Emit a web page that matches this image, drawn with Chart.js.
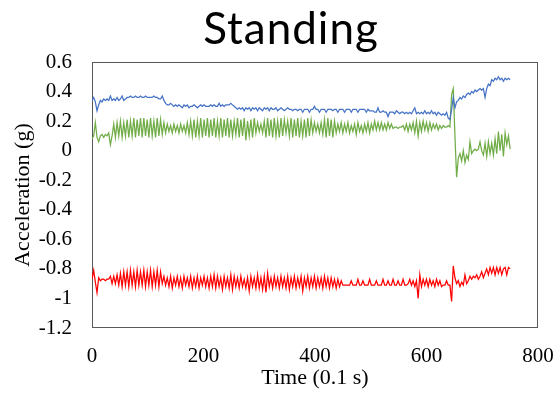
<!DOCTYPE html>
<html>
<head>
<meta charset="utf-8">
<script src="https://cdn.jsdelivr.net/npm/chart.js@4/dist/chart.umd.min.js"></script>
<style>
html,body{margin:0;padding:0;background:#fff;}
canvas{display:block;}
</style>
</head>
<body>
<canvas id="c" width="557" height="399"></canvas>
<script>
const chartTitle = "Standing";
const xAxisTitle = "Time (0.1 s)";
const yAxisTitle = "Acceleration (g)";
const xTicks = [0, 200, 400, 600, 800];
const yTicks = [0.6, 0.4, 0.2, 0, -0.2, -0.4, -0.6, -0.8, -1, -1.2];
const sampleStep = 3; // time units between samples

const blueSeries = [
 0.34,0.36,0.33,0.27,0.31,0.34,0.33,0.35,0.34,0.35,
 0.34,0.37,0.34,0.35,0.34,0.36,0.34,0.35,0.37,0.34,
 0.35,0.36,0.36,0.37,0.36,0.36,0.37,0.36,0.36,0.37,
 0.36,0.36,0.37,0.36,0.36,0.36,0.36,0.37,0.36,0.36,
 0.35,0.35,0.37,0.34,0.32,0.31,0.31,0.32,0.31,0.30,
 0.31,0.30,0.31,0.30,0.29,0.31,0.30,0.31,0.29,0.30,
 0.30,0.31,0.30,0.29,0.30,0.31,0.30,0.31,0.30,0.30,
 0.30,0.31,0.30,0.31,0.30,0.30,0.32,0.30,0.31,0.30,
 0.31,0.31,0.31,0.32,0.31,0.30,0.29,0.28,0.29,0.28,
 0.29,0.27,0.29,0.28,0.29,0.27,0.29,0.28,0.29,0.27,
 0.29,0.28,0.27,0.29,0.28,0.29,0.27,0.29,0.28,0.28,
 0.29,0.27,0.28,0.29,0.28,0.27,0.28,0.29,0.28,0.28,
 0.27,0.28,0.28,0.27,0.28,0.28,0.26,0.28,0.28,0.28,
 0.26,0.28,0.28,0.30,0.28,0.28,0.26,0.28,0.28,0.28,
 0.26,0.28,0.28,0.28,0.27,0.28,0.28,0.26,0.28,0.28,
 0.28,0.26,0.28,0.28,0.28,0.26,0.28,0.28,0.28,0.26,
 0.28,0.28,0.28,0.28,0.26,0.28,0.27,0.27,0.27,0.26,
 0.26,0.29,0.26,0.26,0.27,0.26,0.26,0.23,0.26,0.26,
 0.26,0.25,0.27,0.26,0.25,0.26,0.26,0.25,0.26,0.25,
 0.26,0.25,0.27,0.29,0.25,0.26,0.25,0.26,0.25,0.27,
 0.25,0.26,0.25,0.27,0.25,0.26,0.24,0.26,0.25,0.24,
 0.25,0.24,0.26,0.22,0.21,0.28,0.36,0.29,0.33,0.34,
 0.36,0.35,0.37,0.36,0.38,0.39,0.38,0.40,0.39,0.41,
 0.40,0.41,0.42,0.41,0.42,0.36,0.42,0.45,0.44,0.48,
 0.47,0.49,0.48,0.50,0.48,0.49,0.47,0.49,0.48,0.49,
 0.48
];

const greenSeries = [
 0.08,0.10,0.19,0.09,0.06,0.10,0.11,0.09,0.11,0.10,
 0.12,0.04,0.10,0.18,0.09,0.19,0.10,0.20,0.09,0.19,
 0.10,0.21,0.09,0.20,0.10,0.22,0.09,0.21,0.10,0.22,
 0.09,0.22,0.10,0.21,0.09,0.22,0.10,0.20,0.09,0.22,
 0.10,0.21,0.11,0.19,0.12,0.18,0.13,0.17,0.12,0.18,
 0.13,0.17,0.12,0.18,0.13,0.17,0.12,0.19,0.11,0.20,
 0.10,0.21,0.09,0.20,0.10,0.22,0.09,0.21,0.10,0.22,
 0.09,0.21,0.10,0.22,0.09,0.20,0.10,0.22,0.09,0.21,
 0.10,0.22,0.09,0.21,0.10,0.20,0.11,0.22,0.09,0.21,
 0.10,0.22,0.07,0.20,0.10,0.21,0.09,0.22,0.12,0.19,
 0.13,0.18,0.12,0.20,0.09,0.22,0.10,0.21,0.09,0.22,
 0.10,0.20,0.09,0.22,0.10,0.21,0.12,0.20,0.10,0.22,
 0.09,0.21,0.10,0.22,0.09,0.20,0.10,0.21,0.09,0.22,
 0.10,0.21,0.12,0.19,0.13,0.18,0.12,0.19,0.11,0.21,
 0.09,0.22,0.10,0.21,0.09,0.20,0.12,0.18,0.13,0.19,
 0.12,0.18,0.13,0.19,0.12,0.17,0.13,0.18,0.11,0.19,
 0.13,0.17,0.12,0.18,0.13,0.19,0.12,0.18,0.14,0.20,
 0.14,0.19,0.14,0.19,0.14,0.18,0.14,0.19,0.15,0.18,
 0.15,0.16,0.16,0.15,0.16,0.16,0.17,0.14,0.18,0.13,
 0.18,0.14,0.19,0.12,0.20,0.10,0.19,0.13,0.20,0.14,
 0.19,0.13,0.19,0.14,0.18,0.15,0.18,0.14,0.17,0.15,
 0.17,0.16,0.16,0.17,0.16,0.38,0.42,0.10,-0.18,-0.05,
 -0.02,-0.07,0.00,-0.08,-0.03,-0.06,0.06,-0.02,0.00,0.01,
 0.00,0.01,0.06,0.00,-0.03,0.05,-0.04,0.06,-0.02,0.05,
 -0.03,0.08,-0.02,0.13,0.00,0.11,-0.04,0.12,0.04,0.10,
 0.01
];

const redSeries = [
 -0.87,-0.81,-0.89,-0.96,-0.86,-0.88,-0.87,-0.87,-0.88,-0.87,
 -0.87,-0.85,-0.90,-0.85,-0.90,-0.84,-0.91,-0.83,-0.92,-0.82,
 -0.91,-0.82,-0.92,-0.81,-0.91,-0.82,-0.92,-0.81,-0.91,-0.82,
 -0.91,-0.81,-0.92,-0.82,-0.91,-0.81,-0.92,-0.82,-0.91,-0.81,
 -0.92,-0.82,-0.90,-0.85,-0.91,-0.86,-0.92,-0.85,-0.93,-0.86,
 -0.91,-0.85,-0.92,-0.86,-0.93,-0.85,-0.91,-0.86,-0.92,-0.85,
 -0.93,-0.86,-0.92,-0.85,-0.93,-0.86,-0.91,-0.85,-0.92,-0.86,
 -0.93,-0.85,-0.92,-0.84,-0.93,-0.85,-0.92,-0.86,-0.94,-0.85,
 -0.92,-0.86,-0.93,-0.84,-0.94,-0.85,-0.92,-0.86,-0.93,-0.85,
 -0.92,-0.87,-0.93,-0.86,-0.95,-0.85,-0.92,-0.86,-0.93,-0.84,
 -0.93,-0.86,-0.94,-0.85,-0.96,-0.83,-0.92,-0.86,-0.93,-0.85,
 -0.92,-0.86,-0.93,-0.85,-0.92,-0.86,-0.93,-0.85,-0.94,-0.86,
 -0.92,-0.85,-0.93,-0.86,-0.92,-0.85,-0.95,-0.86,-0.92,-0.85,
 -0.93,-0.86,-0.92,-0.85,-0.93,-0.86,-0.92,-0.86,-0.93,-0.85,
 -0.92,-0.86,-0.93,-0.86,-0.92,-0.87,-0.93,-0.87,-0.92,-0.88,
 -0.91,-0.91,-0.91,-0.91,-0.91,-0.88,-0.91,-0.91,-0.91,-0.87,
 -0.91,-0.91,-0.88,-0.91,-0.91,-0.91,-0.87,-0.91,-0.91,-0.91,
 -0.88,-0.91,-0.91,-0.91,-0.87,-0.91,-0.91,-0.88,-0.91,-0.91,
 -0.87,-0.91,-0.91,-0.88,-0.91,-0.91,-0.87,-0.91,-0.91,-0.90,
 -0.87,-0.91,-0.88,-0.92,-0.88,-1.00,-0.84,-0.92,-0.87,-0.91,
 -0.87,-0.92,-0.87,-0.91,-0.88,-0.92,-0.87,-0.91,-0.88,-0.92,
 -0.91,-0.91,-0.88,-0.91,-0.91,-1.02,-0.78,-0.86,-0.90,-0.88,
 -0.92,-0.89,-0.91,-0.84,-0.90,-0.88,-0.85,-0.87,-0.85,-0.86,
 -0.84,-0.87,-0.85,-0.82,-0.86,-0.83,-0.80,-0.84,-0.79,-0.83,
 -0.79,-0.84,-0.79,-0.83,-0.79,-0.84,-0.80,-0.79,-0.84,-0.79,
 -0.80
];

const times = blueSeries.map((_, i) => i * sampleStep);
const toPoints = arr => arr.map((v, i) => ({x: times[i], y: v}));

const serifFont = "Liberation Serif";
Chart.defaults.font.family = serifFont;
Chart.defaults.color = '#000';

const frameAndTitle = {
  id: 'frameAndTitle',
  beforeDatasetsDraw(chart) {
    const {ctx, chartArea: a} = chart;
    ctx.save();
    ctx.strokeStyle = '#595959';
    ctx.lineWidth = 1;
    ctx.strokeRect(Math.round(a.left) + 0.5, Math.round(a.top) + 0.5,
                   Math.round(a.right - a.left) - 1, Math.round(a.bottom - a.top) - 1);
    ctx.restore();
  },
  afterDraw(chart) {
    const {ctx} = chart;
    ctx.save();
    ctx.fillStyle = '#000';
    ctx.font = "44px Lato";
    if ('letterSpacing' in ctx) ctx.letterSpacing = '1px';
    ctx.textAlign = 'center';
    ctx.textBaseline = 'alphabetic';
    ctx.fillText(chartTitle, 291, 44);
    ctx.restore();
  }
};

new Chart(document.getElementById('c'), {
  type: 'line',
  data: {
    datasets: [
      {label: 'Blue', data: toPoints(blueSeries), borderColor: '#4472C4', borderWidth: 1.25, pointRadius: 0, tension: 0},
      {label: 'Green', data: toPoints(greenSeries), borderColor: '#70AD47', borderWidth: 1.25, pointRadius: 0, tension: 0},
      {label: 'Red', data: toPoints(redSeries), borderColor: '#FF0000', borderWidth: 1.25, pointRadius: 0, tension: 0}
    ]
  },
  options: {
    responsive: false,
    animation: false,
    layout: {padding: {left: 0, right: 19, top: 62, bottom: 0}},
    plugins: {legend: {display: false}, tooltip: {enabled: false}, title: {display: false}},
    scales: {
      x: {
        type: 'linear', min: 0, max: 800,
        afterBuildTicks: s => { s.ticks = xTicks.map(v => ({value: v})); },
        afterFit: s => { s.height = 71; s.paddingLeft = 0; s.paddingRight = 0; },
        grid: {display: false, drawTicks: false},
        border: {display: false},
        ticks: {color: '#000', font: {family: serifFont, size: 21}, padding: 16, maxRotation: 0,
                callback: v => String(v)},
        title: {display: true, text: xAxisTitle, color: '#000', font: {family: serifFont, size: 22}, padding: {top: 0, bottom: 8}}
      },
      y: {
        type: 'linear', min: -1.2, max: 0.6,
        afterBuildTicks: s => { s.ticks = yTicks.map(v => ({value: v})); },
        afterFit: s => { s.width = 92; s.paddingTop = 0; s.paddingBottom = 0; },
        grid: {display: false, drawTicks: false},
        border: {display: false},
        ticks: {color: '#000', font: {family: serifFont, size: 21}, padding: 20,
                callback: v => String(Math.round(v * 10) / 10)},
        title: {display: true, text: yAxisTitle, color: '#000', font: {family: serifFont, size: 22}, padding: {top: 10, bottom: 0}}
      }
    }
  },
  plugins: [frameAndTitle]
});
</script>
</body>
</html>
